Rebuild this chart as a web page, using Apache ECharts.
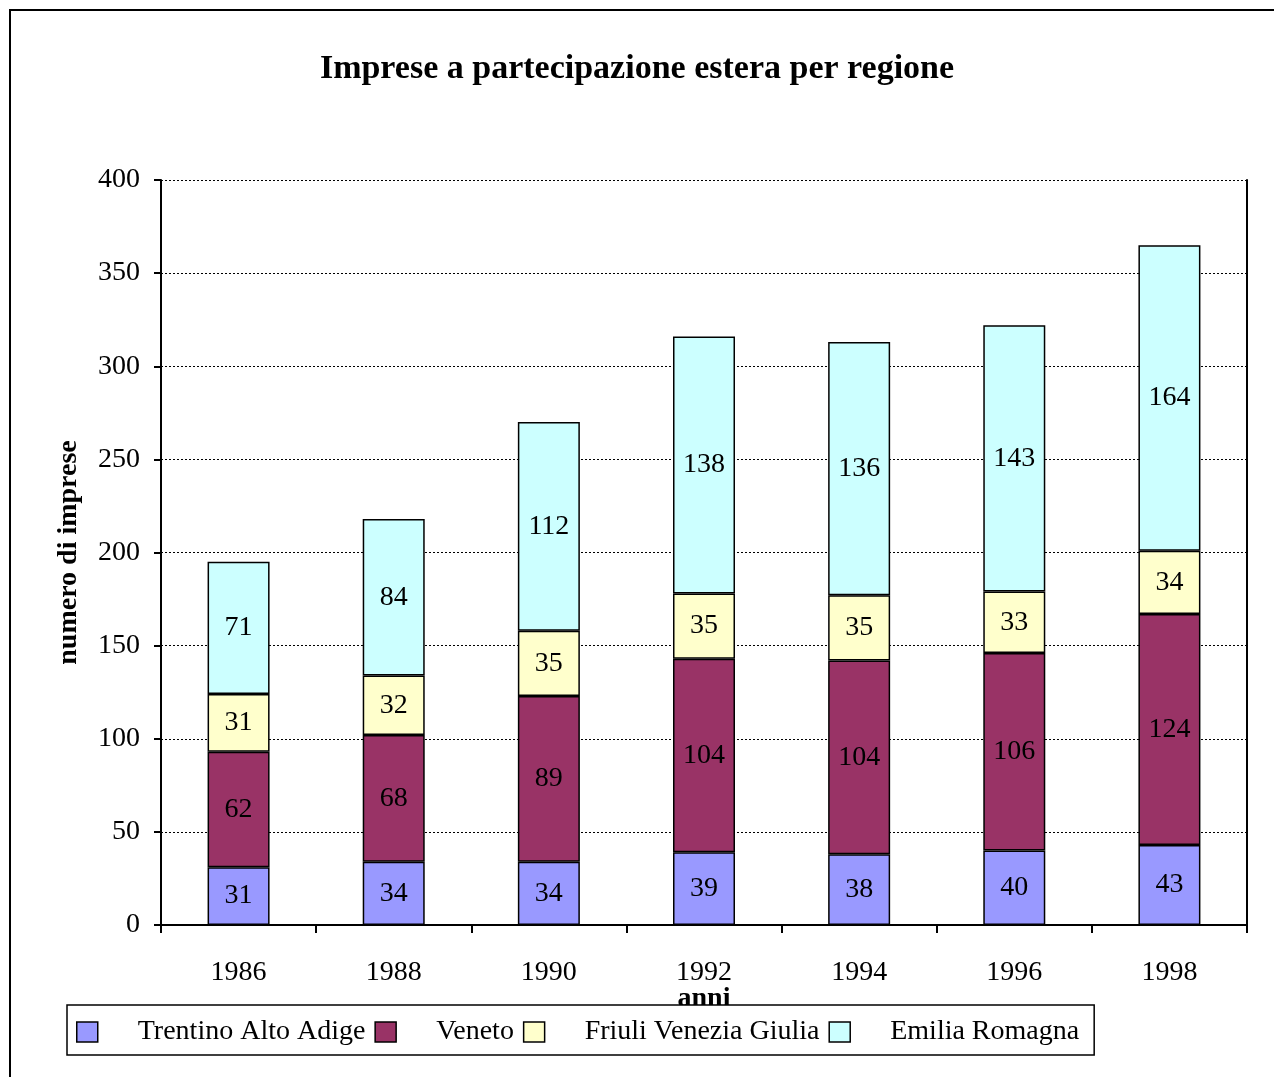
<!DOCTYPE html>
<html>
<head>
<meta charset="utf-8">
<script src="https://cdn.jsdelivr.net/npm/echarts@6/dist/echarts.min.js"></script>
<style>
  html, body { margin: 0; padding: 0; background: #ffffff; }
  #chart { width: 1274px; height: 1077px; }
</style>
</head>
<body>
<div id="chart"></div>
<script>
// Foreign-owned companies per region, by year
const years = ['1986', '1988', '1990', '1992', '1994', '1996', '1998'];
const trentino = [31, 34, 34, 39, 38, 40, 43];
const veneto = [62, 68, 89, 104, 104, 106, 124];
const friuli = [31, 32, 35, 35, 35, 33, 34];
const emilia = [71, 84, 112, 138, 136, 143, 164];

const serif = '"Liberation Serif", "Times New Roman", serif';

function stackSeries(name, data, color) {
  return {
    name: name,
    type: 'bar',
    stack: 'totale',
    data: data,
    barWidth: 62,
    itemStyle: { color: color, borderColor: '#000000', borderWidth: 1.5 },
    label: {
      show: true,
      position: 'inside',
      color: '#000000',
      fontFamily: serif,
      fontSize: 28
    },
    emphasis: { disabled: true }
  };
}

const chart = echarts.init(document.getElementById('chart'));
chart.setOption({
  backgroundColor: '#ffffff',
  animation: false,
  graphic: [{
    type: 'rect',
    shape: { x: 10, y: 10, width: 1300, height: 1100 },
    style: { fill: 'none', stroke: '#000000', lineWidth: 2 },
    silent: true
  }],
  title: {
    text: 'Imprese a partecipazione estera per regione',
    left: 'center',
    top: 47,
    textStyle: { fontFamily: serif, fontWeight: 'bold', fontSize: 34, color: '#000000' }
  },
  legend: {
    left: 67,
    top: 1005,
    padding: [13, 15, 9, 9],
    itemGap: 9,
    itemWidth: 21,
    itemHeight: 20,
    borderColor: '#000000',
    borderWidth: 1.5,
    backgroundColor: '#ffffff',
    icon: 'rect',
    itemStyle: { borderColor: '#000000', borderWidth: 1.5 },
    formatter: function (name) { return '{t|' + name + '}'; },
    textStyle: {
      fontFamily: serif,
      fontSize: 28,
      color: '#000000',
      rich: { t: { fontFamily: serif, fontSize: 28, color: '#000000', padding: [0, 0, 0, 35] } }
    },
    selectedMode: false,
    data: ['Trentino Alto Adige', 'Veneto', 'Friuli Venezia Giulia', 'Emilia Romagna']
  },
  grid: { left: 161, top: 180, right: 27, bottom: 152, containLabel: false },
  xAxis: {
    type: 'category',
    data: years,
    name: 'anni',
    nameLocation: 'middle',
    nameGap: 60,
    nameMoveOverlap: false,
    nameTextStyle: { fontFamily: serif, fontWeight: 'bold', fontSize: 28, color: '#000000' },
    axisLine: { lineStyle: { color: '#000000', width: 2 } },
    axisTick: { show: true, length: 8, lineStyle: { color: '#000000', width: 2 } },
    axisLabel: { fontFamily: serif, fontSize: 28, color: '#000000', margin: 34 }
  },
  yAxis: [{
    type: 'value',
    min: 0,
    max: 400,
    interval: 50,
    name: 'numero di imprese',
    nameLocation: 'middle',
    nameGap: 78,
    nameMoveOverlap: false,
    nameTextStyle: { fontFamily: serif, fontWeight: 'bold', fontSize: 28, color: '#000000' },
    axisLine: { show: true, lineStyle: { color: '#000000', width: 2 } },
    axisTick: { show: true, length: 7, lineStyle: { color: '#000000', width: 2 } },
    axisLabel: { fontFamily: serif, fontSize: 28, color: '#000000', margin: 21 },
    splitLine: { show: true, lineStyle: { color: '#000000', width: 1, type: [2, 2] } }
  }, {
    type: 'value',
    position: 'right',
    min: 0,
    max: 400,
    interval: 50,
    axisLine: { show: true, lineStyle: { color: '#000000', width: 2 } },
    axisTick: { show: false },
    axisLabel: { show: false },
    splitLine: { show: false }
  }],
  series: [
    stackSeries('Trentino Alto Adige', trentino, '#9999ff'),
    stackSeries('Veneto', veneto, '#993366'),
    stackSeries('Friuli Venezia Giulia', friuli, '#ffffcc'),
    stackSeries('Emilia Romagna', emilia, '#ccffff')
  ]
});
</script>
</body>
</html>
